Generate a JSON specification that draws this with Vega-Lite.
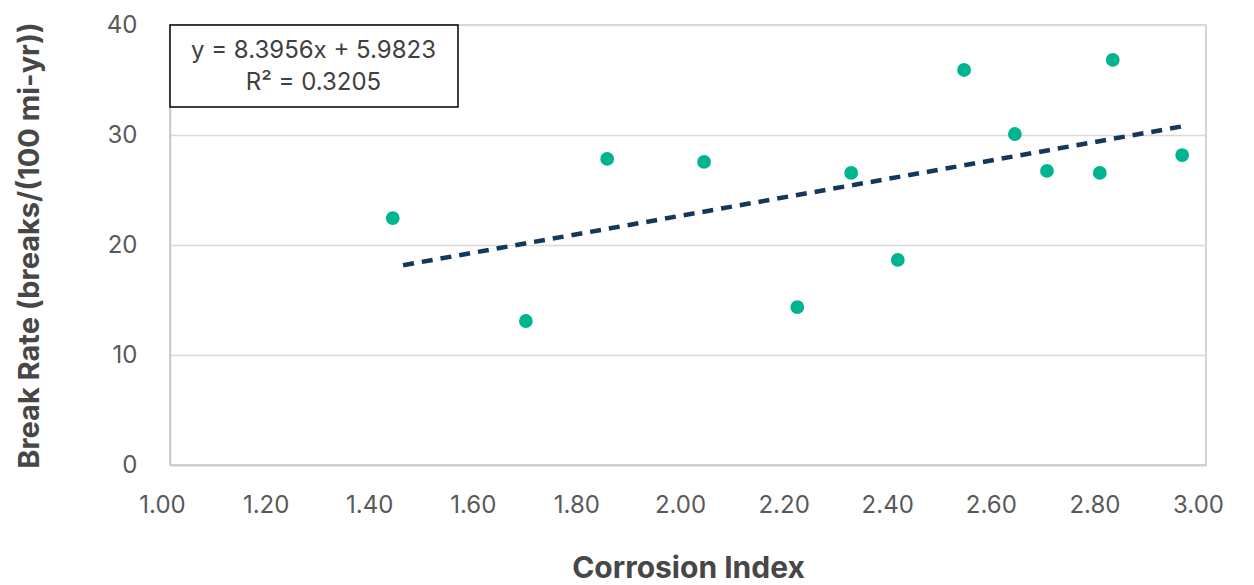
{
  "$schema": "https://vega.github.io/schema/vega-lite/v6.json",
  "width": 1036,
  "height": 440,
  "autosize": {"type": "none"},
  "padding": {"left": 170, "top": 25, "right": 48, "bottom": 120},
  "background": "white",
  "config": {
    "font": "Inter",
    "view": {"stroke": "#c8c8c8", "strokeWidth": 1.5},
    "axis": {
      "labelFont": "Inter",
      "titleFont": "Inter",
      "labelFontSize": 24,
      "labelColor": "#595959",
      "titleColor": "#474747",
      "titleFontSize": 29,
      "titleFontWeight": "bold",
      "tickSize": 0,
      "domainColor": "#c8c8c8",
      "domainWidth": 1.5,
      "gridColor": "#d9d9d9",
      "gridWidth": 1.5
    }
  },
  "datasets": {
    "points": [
      {"ci": 1.430, "br": 22.45},
      {"ci": 1.687, "br": 13.09},
      {"ci": 1.844, "br": 27.82},
      {"ci": 2.031, "br": 27.55},
      {"ci": 2.211, "br": 14.36},
      {"ci": 2.315, "br": 26.55},
      {"ci": 2.405, "br": 18.64},
      {"ci": 2.533, "br": 35.91},
      {"ci": 2.631, "br": 30.09},
      {"ci": 2.693, "br": 26.73},
      {"ci": 2.795, "br": 26.55},
      {"ci": 2.820, "br": 36.82},
      {"ci": 2.954, "br": 28.18}
    ],
    "trend": [
      {"ci": 1.450, "br": 18.16},
      {"ci": 2.954, "br": 30.78}
    ],
    "box": [
      {"x1": 1.0, "x2": 1.556, "y1": 40, "y2": 32.55}
    ],
    "labels": [
      {"ci": 1.277, "br": 37.6, "txt": "y = 8.3956x + 5.9823"},
      {"ci": 1.277, "br": 34.7, "txt": "R² = 0.3205"}
    ]
  },
  "layer": [
    {
      "data": {"name": "points"},
      "mark": {"type": "point", "opacity": 0},
      "encoding": {
        "x": {
          "field": "ci", "type": "quantitative",
          "scale": {"domain": [1, 3], "nice": false, "zero": false},
          "axis": {
            "title": "Corrosion Index",
            "titleFontSize": 30,
            "values": [1, 1.2, 1.4, 1.6, 1.8, 2, 2.2, 2.4, 2.6, 2.8, 3],
            "format": ".2f",
            "grid": false,
            "labelFlush": false,
            "labelOffset": -8,
            "labelPadding": 28,
            "titlePadding": 36
          }
        },
        "y": {
          "field": "br", "type": "quantitative",
          "scale": {"domain": [0, 40], "nice": false},
          "axis": {
            "title": "Break Rate (breaks/(100 mi-yr))",
            "values": [0, 10, 20, 30, 40],
            "grid": true,
            "domain": true,
            "labelFlush": false,
            "labelPadding": 33,
            "titlePadding": 62
          }
        }
      }
    },
    {
      "data": {"name": "box"},
      "mark": {"type": "rect", "fill": "white", "stroke": "#000000", "strokeWidth": 1.5},
      "encoding": {
        "x": {"field": "x1", "type": "quantitative"},
        "x2": {"field": "x2"},
        "y": {"field": "y1", "type": "quantitative"},
        "y2": {"field": "y2"}
      }
    },
    {
      "data": {"name": "labels"},
      "mark": {"type": "text", "font": "Inter", "fontSize": 24, "color": "#404040", "align": "center", "baseline": "middle"},
      "encoding": {
        "x": {"field": "ci", "type": "quantitative"},
        "y": {"field": "br", "type": "quantitative"},
        "text": {"field": "txt"}
      }
    },
    {
      "data": {"name": "trend"},
      "mark": {"type": "line", "color": "#14375a", "strokeWidth": 4.5, "strokeDash": [11, 8]},
      "encoding": {
        "x": {"field": "ci", "type": "quantitative"},
        "y": {"field": "br", "type": "quantitative"}
      }
    },
    {
      "data": {"name": "points"},
      "mark": {"type": "circle", "color": "#00b48f", "opacity": 1, "size": 190},
      "encoding": {
        "x": {"field": "ci", "type": "quantitative"},
        "y": {"field": "br", "type": "quantitative"}
      }
    }
  ]
}
